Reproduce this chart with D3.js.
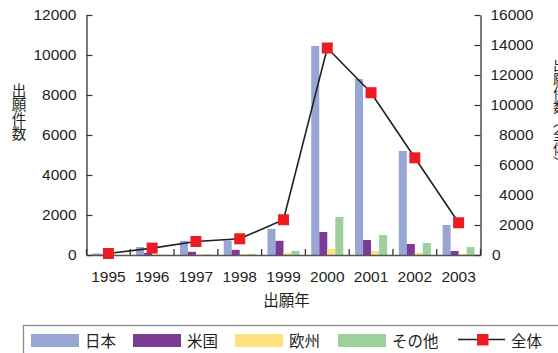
<!DOCTYPE html>
<html>
<head>
<meta charset="utf-8">
<script src="https://cdn.jsdelivr.net/npm/d3@7"></script>
<style>
  html, body { margin: 0; padding: 0; background: #fff; }
  svg { display: block; }
  text { font-family: "Liberation Sans", "Noto Sans CJK JP", sans-serif; fill: #231f20; }
</style>
</head>
<body>
<svg id="chart" width="558" height="353"></svg>
<script>
// 出願年ごとの出願件数
const years = ["1995", "1996", "1997", "1998", "1999", "2000", "2001", "2002", "2003"];
const seriesNames = ["日本", "米国", "欧州", "その他"];
const japan  = [80, 400, 710, 720, 1300, 10450, 8800, 5200, 1500];
const usa    = [30, 100, 160, 260, 710, 1150, 750, 550, 200];
const europe = [20, 40, 30, 50, 110, 300, 200, 100, 50];
const others = [5, 10, 30, 50, 210, 1900, 1000, 600, 400];
const total  = [100, 460, 900, 1080, 2350, 13800, 10820, 6480, 2150];
const leftTicks  = [0, 2000, 4000, 6000, 8000, 10000, 12000];
const rightTicks = [0, 2000, 4000, 6000, 8000, 10000, 12000, 14000, 16000];
const seriesColors = ["#97a6d4", "#7c3c95", "#fde07f", "#9dd09b"];
const totalColor = "#ed1c24";
const lineColor = "#231f20";

const seriesValues = [japan, usa, europe, others];

const svg = d3.select("#chart");
const plot = { left: 86.5, right: 480.5, top: 15, bottom: 255 };

const x = d3.scaleBand().domain(years).range([plot.left, plot.right]).paddingInner(0).paddingOuter(0);
const xSub = d3.scaleBand().domain(seriesNames).range([0, x.bandwidth()]).paddingInner(0).paddingOuter(0.73);
const yL = d3.scaleLinear().domain([0, 12000]).range([plot.bottom, plot.top]);
const yR = d3.scaleLinear().domain([0, 16000]).range([plot.bottom, plot.top]);

// bars
const groups = svg.append("g").selectAll("g")
  .data(years)
  .join("g")
  .attr("transform", d => `translate(${x(d)},0)`);

groups.selectAll("rect")
  .data((d, i) => seriesNames.map((s, k) => ({ s, v: seriesValues[k][i], k })))
  .join("rect")
  .attr("x", d => xSub(d.s))
  .attr("width", xSub.bandwidth())
  .attr("y", d => yL(d.v))
  .attr("height", d => plot.bottom - yL(d.v))
  .attr("fill", d => seriesColors[d.k]);

// x axis
const xAxis = svg.append("g")
  .attr("transform", `translate(0,${plot.bottom})`)
  .call(d3.axisBottom(x).tickSize(0).tickPadding(16).tickSizeOuter(0));
xAxis.select(".domain").attr("stroke", "#555").attr("stroke-width", 1.3);
xAxis.selectAll("text").attr("font-size", "15.5px").attr("fill", "#231f20");

// category boundary ticks
const bounds = years.map(d => x(d)).concat([x(years[years.length - 1]) + x.bandwidth()]);
svg.append("g").selectAll("line")
  .data(bounds)
  .join("line")
  .attr("x1", d => d).attr("x2", d => d)
  .attr("y1", plot.bottom).attr("y2", plot.bottom - 6)
  .attr("stroke", "#333").attr("stroke-width", 1.3);

// left axis
const leftAxis = svg.append("g")
  .attr("transform", `translate(${plot.left},0)`)
  .call(d3.axisLeft(yL).tickValues(leftTicks).tickFormat(d3.format("d")).tickSize(-6).tickSizeOuter(0).tickPadding(10));
leftAxis.select(".domain").attr("stroke", "#333").attr("stroke-width", 1.3);
leftAxis.selectAll(".tick line").attr("stroke", "#333").attr("stroke-width", 1.2);
leftAxis.selectAll("text").attr("font-size", "15.5px").attr("fill", "#231f20");

// right axis
const rightAxis = svg.append("g")
  .attr("transform", `translate(${plot.right},0)`)
  .call(d3.axisRight(yR).tickValues(rightTicks).tickFormat(d3.format("d")).tickSize(-6).tickSizeOuter(0).tickPadding(8));
rightAxis.select(".domain").attr("stroke", "#333").attr("stroke-width", 1.3);
rightAxis.selectAll(".tick line").attr("stroke", "#333").attr("stroke-width", 1.2);
rightAxis.selectAll("text")
  .attr("font-size", "15.5px").attr("fill", "#231f20")
  .attr("text-anchor", d => d === 0 ? "start" : "end")
  .attr("x", d => d === 0 ? 11.5 : 53);

// total line
const cx = d => x(d) + x.bandwidth() / 2;
const line = d3.line().x((d, i) => cx(years[i])).y(d => yR(d));
svg.append("path")
  .datum(total)
  .attr("d", line)
  .attr("fill", "none")
  .attr("stroke", lineColor)
  .attr("stroke-width", 1.6);
svg.append("g").selectAll("rect")
  .data(total)
  .join("rect")
  .attr("x", (d, i) => cx(years[i]) - 5.5)
  .attr("y", d => yR(d) - 5.5)
  .attr("width", 11).attr("height", 11)
  .attr("fill", totalColor);

// axis titles
svg.append("text")
  .attr("x", (plot.left + plot.right) / 2 + 3)
  .attr("y", 306)
  .attr("text-anchor", "middle")
  .attr("font-size", "15.5px")
  .text("出願年");

svg.append("text")
  .attr("x", 17.5).attr("y", 83)
  .style("writing-mode", "vertical-rl")
  .attr("font-size", "14.5px")
  .text("出願件数");

svg.append("text")
  .attr("x", 559).attr("y", 58)
  .style("writing-mode", "vertical-rl")
  .attr("font-size", "14px")
  .text("出願件数（全体）");

// legend
svg.append("rect")
  .attr("x", 23.5).attr("y", 325.5)
  .attr("width", 560).attr("height", 40)
  .attr("fill", "none")
  .attr("stroke", "#8c8c8c").attr("stroke-width", 1.3);

const legendX = [31, 133, 235, 338];
const legend = svg.append("g");
seriesNames.forEach((s, k) => {
  legend.append("rect")
    .attr("x", legendX[k]).attr("y", 334)
    .attr("width", 48).attr("height", 13)
    .attr("fill", seriesColors[k]);
  legend.append("text")
    .attr("x", legendX[k] + 54).attr("y", 346.5)
    .attr("font-size", "15.5px")
    .text(s);
});
legend.append("line")
  .attr("x1", 458).attr("x2", 505).attr("y1", 339.5).attr("y2", 339.5)
  .attr("stroke", lineColor).attr("stroke-width", 1.6);
legend.append("rect")
  .attr("x", 477).attr("y", 334).attr("width", 11.5).attr("height", 11.5)
  .attr("fill", totalColor);
legend.append("text")
  .attr("x", 511).attr("y", 346.5)
  .attr("font-size", "15.5px")
  .text("全体");
</script>
</body>
</html>
